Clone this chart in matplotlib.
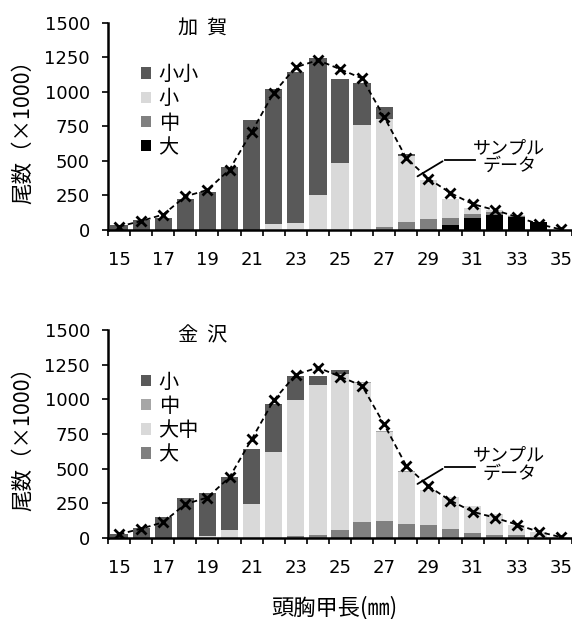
import numpy as np
import matplotlib
matplotlib.use("Agg")
import matplotlib.pyplot as plt

plt.rcParams['font.family'] = ['DejaVu Sans', 'Noto Sans CJK JP']

# 頭胸甲長 (mm)
cats = np.arange(15, 36)
xlabels = [str(c) for c in cats[::2]]

# サンプルデータ (両地区共通の曲線)
sample = [25, 65, 112, 243, 290, 437, 710, 993, 1178, 1229, 1164,
          1097, 818, 520, 372, 268, 188, 145, 95, 43, 4]

# 加賀 (下から 大, 中, 小, 小小)
kaga_dai = [0, 0, 0, 0, 0, 0, 0, 0, 0, 0, 0, 0, 0, 0, 0, 36, 85, 108, 92, 55, 3]
kaga_chu = [0, 0, 0, 0, 0, 0, 0, 0, 0, 0, 0, 0, 20, 56, 77, 49, 31, 25, 8, 5, 0]
kaga_sho = [0, 0, 0, 0, 0, 0, 0, 41, 48, 253, 483, 760, 781, 480, 285, 139, 46, 12, 8, 0, 0]
kaga_shosho = [34, 72, 85, 222, 277, 454, 796, 977, 1093, 989, 607, 301, 91, 14, 0, 0, 0, 0, 0, 0, 0]

# 金沢 (下から 大, 大中, 中, 小)
kana_dai = [0, 0, 0, 0, 0, 0, 0, 0, 10, 20, 59, 114, 119, 102, 90, 66, 35, 23, 18, 0, 0]
kana_daichu = [0, 0, 0, 0, 12, 58, 241, 619, 986, 1085, 1125, 1001, 643, 372, 252, 228, 192, 146, 77, 42, 2]
kana_chu = [0, 0, 0, 0, 0, 0, 0, 0, 0, 0, 0, 8, 6, 6, 0, 0, 0, 0, 0, 0, 0]
kana_sho = [29, 70, 149, 286, 310, 377, 402, 347, 171, 66, 24, 0, 0, 0, 0, 0, 0, 0, 0, 0, 0]

CJK = ['Noto Sans CJK JP', 'DejaVu Sans']

fig = plt.figure(figsize=(5.72, 6.19), dpi=100)
ax1 = fig.add_axes([0.1888, 0.6284, 0.8112, 0.3349])
ax2 = fig.add_axes([0.1888, 0.1313, 0.8112, 0.3355])


def draw(ax, title, series):
    bottom = np.zeros(len(cats))
    handles = []
    for label, vals, color in series:
        b = ax.bar(cats, vals, width=0.78, bottom=bottom, color=color, label=label, linewidth=0)
        bottom += np.array(vals)
        handles.append(b)
    ax.plot(cats, sample, linestyle=(0, (3, 2)), color='black', linewidth=1.3,
            marker='x', markersize=6.5, markeredgewidth=2)

    ax.set_xlim(14.5, 35.36)
    ax.set_ylim(0, 1500)
    ax.set_yticks(np.arange(0, 1501, 250))
    ax.set_xticks(np.arange(14.5, 35.6, 1))
    ax.set_xticklabels([])
    ax.set_xticks(cats[::2], minor=True)
    ax.set_xticklabels(xlabels, minor=True)
    ax.tick_params(axis='x', which='major', direction='out', length=4, width=1.2)
    ax.tick_params(axis='x', which='minor', length=0, pad=15, labelsize=13)
    ax.tick_params(axis='y', direction='out', length=4, width=1.2, pad=9, labelsize=13)
    for s in ['top', 'right']:
        ax.spines[s].set_visible(False)
    for s in ['left', 'bottom']:
        ax.spines[s].set_linewidth(1.8)

    ax.set_ylabel('尾数（×1000）', fontsize=15.5, family=CJK)
    ax.yaxis.set_label_coords(-0.16, 0.5)

    ax.text(0.203, 0.972, title, transform=ax.transAxes, ha='center', va='center',
            fontsize=14.5, family=CJK)

    # 凡例 (上から積み上げの逆順)
    ax.legend(handles[::-1], [s[0] for s in series][::-1], loc='upper left',
              bbox_to_anchor=(0.072, 0.80), frameon=False, borderpad=0,
              borderaxespad=0, handlelength=0.5, handleheight=0.5,
              handletextpad=0.35, labelspacing=0.16, prop={'family': CJK, 'size': 14.5})

    ax.annotate('', xy=(28.4, 378), xytext=(29.75, 508),
                arrowprops=dict(arrowstyle='-', color='black', lw=1.3))
    ax.plot([29.75, 31.1], [508, 508], color='black', lw=1.3)
    ax.text(32.66, 528, 'サンプル\nデータ', ha='center', va='center', fontsize=13,
            linespacing=1.0, family=CJK)


draw(ax1, '加  賀', [('大', kaga_dai, '#000000'),
                    ('中', kaga_chu, '#808080'),
                    ('小', kaga_sho, '#d9d9d9'),
                    ('小小', kaga_shosho, '#595959')])

draw(ax2, '金  沢', [('大', kana_dai, '#808080'),
                    ('大中', kana_daichu, '#d9d9d9'),
                    ('中', kana_chu, '#a6a6a6'),
                    ('小', kana_sho, '#595959')])

fig.text(0.584, 0.019, '頭胸甲長(㎜)', ha='center', va='center', fontsize=16, family=CJK)

fig.savefig('out.png', dpi=100)
